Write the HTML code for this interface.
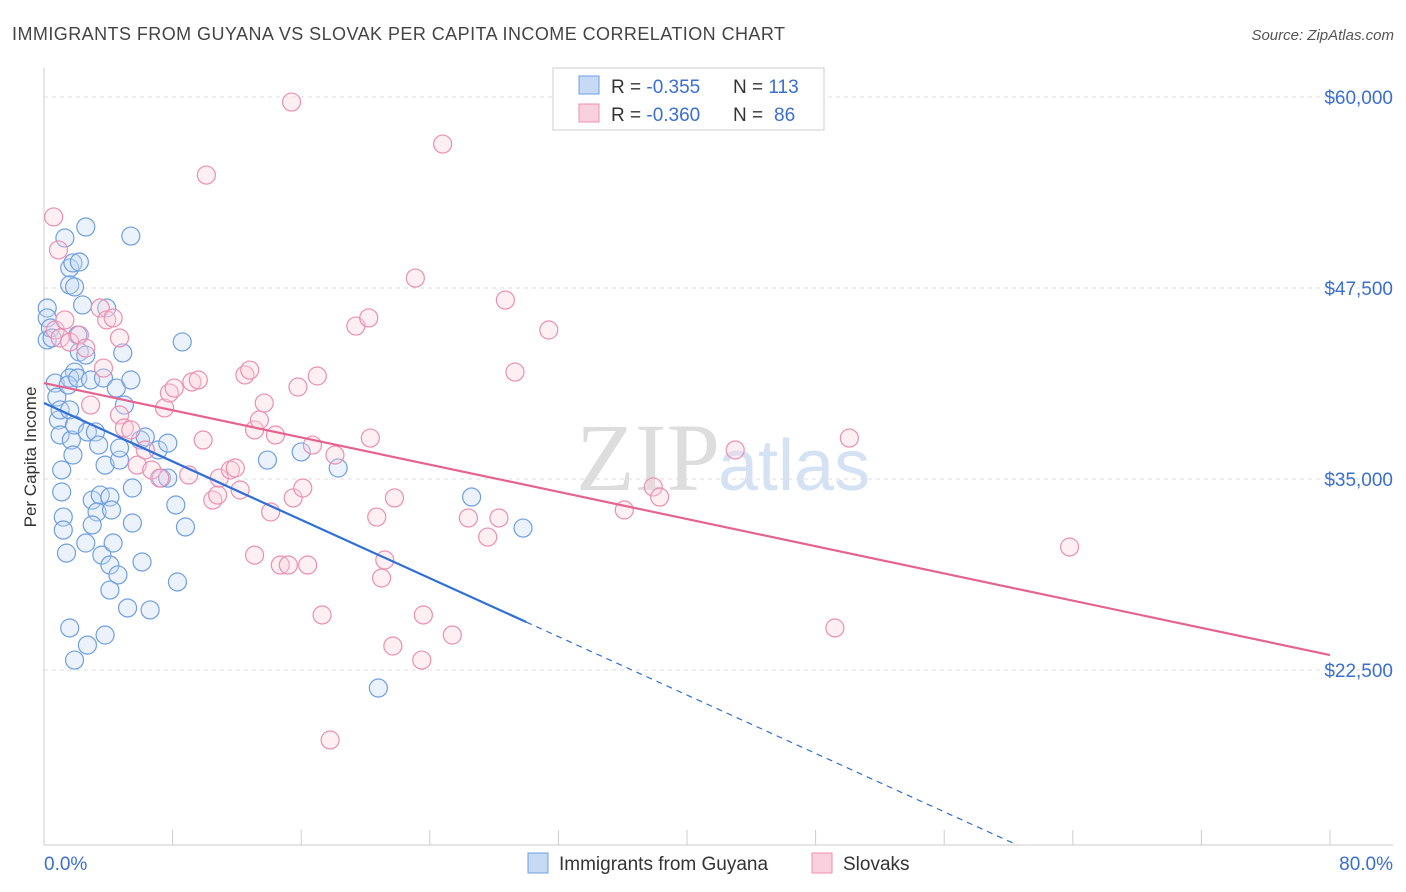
<!DOCTYPE html>
<html><head><meta charset="utf-8"><style>
body{margin:0;background:#fff;font-family:"Liberation Sans",sans-serif;}
#c{position:relative;width:1406px;height:892px;overflow:hidden;}
</style></head><body>
<div id="c">
<svg id="s" width="1406" height="892">
<text x="12" y="40" font-size="18" fill="#444" textLength="773">IMMIGRANTS FROM GUYANA VS SLOVAK PER CAPITA INCOME CORRELATION CHART</text>
<text x="1394" y="40" font-size="15" fill="#555" text-anchor="end" font-style="italic">Source: ZipAtlas.com</text>
<text x="36" y="457" font-size="17" fill="#333" text-anchor="middle" transform="rotate(-90 36 457)">Per Capita Income</text>
<text x="720" y="490" font-size="96" fill="#ddd" text-anchor="end" font-family="Liberation Serif">ZIP</text>
<text x="718" y="490" font-size="72" fill="#d4e2f4">atlas</text>
<g id="grid"></g><g id="pts"></g><g id="lines"></g>
<g>
<rect x="553" y="68" width="271" height="62" fill="#fff" stroke="#ccc"/>
<rect x="579" y="76" width="20" height="18" fill="#c6daf6" stroke="#6f9fe0"/>
<rect x="579" y="104" width="20" height="18" fill="#fbd0de" stroke="#eb8fb0"/>
<text x="611" y="93" font-size="19" fill="#333">R = <tspan fill="#3a6fd0">-0.355</tspan></text>
<text x="733" y="93" font-size="19" fill="#333">N = <tspan fill="#3a6fd0">113</tspan></text>
<text x="611" y="121" font-size="19" fill="#333">R = <tspan fill="#3a6fd0">-0.360</tspan></text>
<text x="733" y="121" font-size="19" fill="#333">N = <tspan fill="#3a6fd0" x="774">86</tspan></text>
</g>
<g>
<rect x="528" y="853" width="20" height="20" fill="#c6daf6" stroke="#6f9fe0"/>
<text x="559" y="870" font-size="19" fill="#333">Immigrants from Guyana</text>
<rect x="812" y="853" width="20" height="20" fill="#fbd0de" stroke="#eb8fb0"/>
<text x="843" y="870" font-size="19" fill="#333">Slovaks</text>
</g>
</svg>
</div>
<script>
const yTicks=[22500,35000,47500,60000];
const yTickLabels=["$22,500","$35,000","$47,500","$60,000"];
const xTickLabels=["0.0%","80.0%"];
const guyanaX=[0.2,0.2,0.2,0.4,0.5,0.7,0.8,0.9,1.0,1.1,1.1,1.2,1.2,1.4,1.6,1.7,1.9,2.7,1.3,1.6,1.8,2.2,2.6,1.6,1.9,2.4,2.1,2.2,2.6,1.9,1.6,1.5,2.1,2.9,1.0,1.6,1.9,2.7,3.2,3.4,1.8,3.8,3.0,3.5,4.1,3.3,4.2,3.0,2.6,3.6,4.1,4.3,4.6,4.1,5.2,3.8,3.7,4.5,5.4,5.0,4.9,3.9,5.4,6.0,6.3,5.5,5.5,6.1,6.6,7.1,7.3,7.7,8.2,8.8,8.3,8.6,7.7,4.7,4.7,13.9,16.0,18.3,26.6,29.8,20.8];
const guyanaY=[46190,45540,44100,44880,44230,41280,40360,38860,37880,35590,34150,32510,31660,30150,25250,37550,23150,24130,50770,48810,49140,49200,51490,47700,47570,46390,44420,43310,43110,42000,41610,41150,41610,41480,39520,39520,38530,38080,38080,37220,36570,35910,33620,33950,33820,32840,32970,31990,30810,30020,29370,30810,28720,27730,26560,24790,41610,40950,41480,39840,43250,46190,50900,37550,37750,34410,32120,29570,26430,36900,35060,37350,33300,31860,28260,43970,35060,36240,37030,36240,36770,35720,33820,31790,21320];
const slovakX=[0.6,0.9,0.7,1.0,1.3,1.6,2.2,2.6,2.9,3.5,3.9,4.3,4.7,3.7,4.7,5.0,5.4,5.8,6.3,6.7,7.2,7.5,7.8,8.1,9.0,9.2,9.6,9.9,10.5,10.8,10.9,11.6,11.9,12.2,12.5,12.8,13.1,13.4,13.7,14.1,14.4,13.1,14.7,15.2,15.5,15.8,16.1,16.4,16.7,17.0,17.3,17.8,18.1,19.4,20.2,20.3,20.7,21.0,21.2,21.7,21.8,23.1,23.6,23.5,25.4,24.8,26.4,27.6,28.3,28.7,29.3,31.4,36.1,37.9,38.3,43.0,49.2,50.1,63.8,15.4,10.1];
const slovakY=[52150,49990,44750,44230,45410,43960,44420,43570,39840,46190,45410,45540,44230,42260,39190,38340,38210,35910,36900,35590,35060,39650,40630,40950,35260,41350,41480,37550,33620,33950,35060,35590,35720,34280,41810,42130,38210,38860,39970,32840,37880,30020,29370,29370,33760,41020,34410,29370,37220,41740,26100,17920,36570,45010,45540,37680,32510,28520,29700,24070,33760,48150,26100,23150,24790,56920,32450,31200,32450,46710,42000,44750,32970,34480,33820,36900,25250,37680,30550,59670,54890];
const guyanaTrend=[39970,-477.7];
const slovakTrend=[41280,-222.5];
const X0=44,X1=1330,YT=97,YB=670;
const sx=v=>X0+(v/80)*(X1-X0);
const sy=v=>YT+(60000-v)/37500*(YB-YT);
const NS="http://www.w3.org/2000/svg";
function mk(t,a,p){const e=document.createElementNS(NS,t);for(const k in a)e.setAttribute(k,a[k]);p.appendChild(e);return e;}
const g=document.getElementById('grid');
yTicks.forEach((v,i)=>{
 const l=mk('line',{x1:44,x2:1393,y1:sy(v),y2:sy(v),stroke:'#ddd','stroke-dasharray':'4,4'},g);
 
 
 const t=mk('text',{x:1393,y:sy(v)+7,'font-size':19,fill:'#3a6fd0','text-anchor':'end'},g);
 t.textContent=yTickLabels[i];
 
 
});
mk('line',{x1:44,x2:1393,y1:845,y2:845,stroke:'#ccc'},g);
mk('line',{x1:44,x2:44,y1:68,y2:845,stroke:'#ccc'},g);
for(let i=0;i<=10;i++){const x=sx(i*8);const l=mk('line',{x1:x,x2:x,y1:830,y2:845,stroke:'#ccc'},g);
 
 }
[[0,'start',44],[80,'end',1393]].forEach((d,i)=>{const t=mk('text',{x:d[2],y:870,'font-size':19,fill:'#3a6fd0','text-anchor':d[1]},g);t.textContent=xTickLabels[i];
 
 });
const p=document.getElementById('pts');
function pts(X,Y,fill,stroke,name){X.forEach((x,i)=>{const c=mk('circle',{cx:sx(x),cy:sy(Y[i]),r:9,fill:fill,'fill-opacity':0.35,stroke:stroke,'stroke-width':1.2},p);
 
 });}
pts(guyanaX,guyanaY,'#c6daf6','#6f9fe0','guyana-point');
pts(slovakX,slovakY,'#fbd0de','#eb8fb0','slovak-point');
const L=document.getElementById('lines');
const gt=x=>guyanaTrend[0]+guyanaTrend[1]*x, st=x=>slovakTrend[0]+slovakTrend[1]*x;
let a=mk('line',{x1:sx(0),y1:sy(gt(0)),x2:sx(30),y2:sy(gt(30)),stroke:'#2f6fd6','stroke-width':2.2},L);


let xe=(11050-guyanaTrend[0])/guyanaTrend[1];
let b=mk('line',{x1:sx(30),y1:sy(gt(30)),x2:sx(xe),y2:sy(gt(xe)),stroke:'#2f6fd6','stroke-width':1.2,'stroke-dasharray':'6,5'},L);


let c=mk('line',{x1:sx(0),y1:sy(st(0)),x2:sx(80),y2:sy(st(80)),stroke:'#e5648f','stroke-width':2.2},L);


</script>
</body></html>
